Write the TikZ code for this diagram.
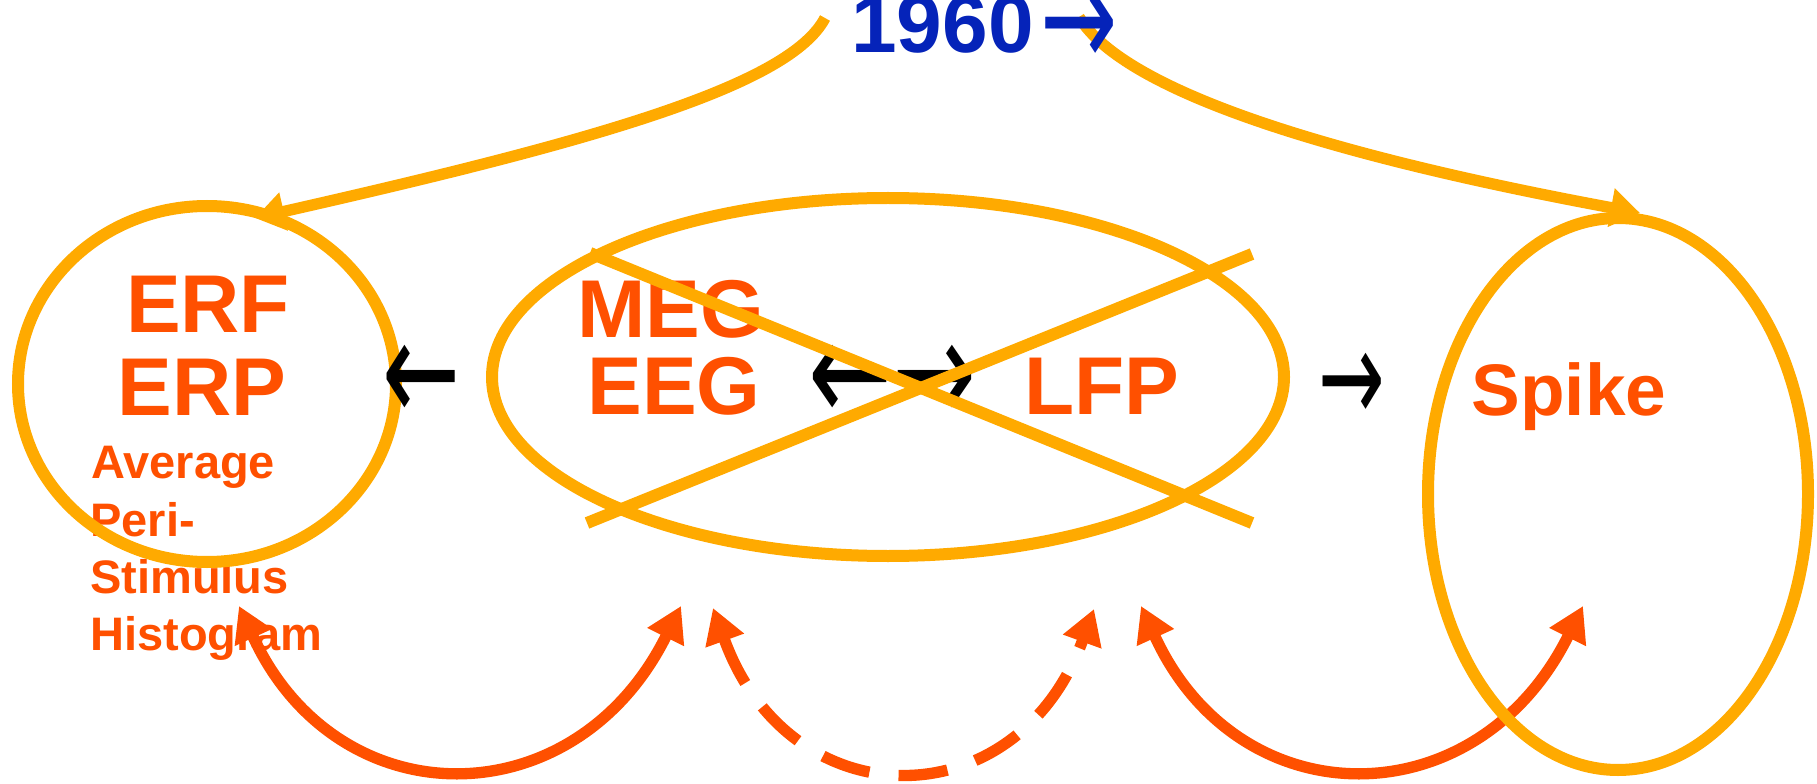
\documentclass[tikz,border=0pt]{standalone}
\usepackage{fontspec}
\usepackage{graphicx}
\setmainfont{Liberation Sans}
\newfontfamily\arrowfont{DejaVu Sans}
\usetikzlibrary{arrows.meta,shapes.geometric}
\definecolor{ringc}{RGB}{255,170,0}
\definecolor{redc}{RGB}{255,80,0}
\definecolor{bluec}{RGB}{5,35,185}
\newcommand{\fbig}{\bfseries\fontsize{61.5}{70}\selectfont}
\newcommand{\fmid}{\bfseries\fontsize{54.75}{62}\selectfont}
\newcommand{\fsml}{\bfseries\fontsize{35.25}{42.75}\selectfont}
\newcommand{\bigglyph}[3]{\resizebox*{#1}{#2}{\arrowfont\mdseries #3}}
\begin{document}
\begin{tikzpicture}[x=0.75pt,y=-0.75pt,
  ring/.style={draw=ringc,line width=9pt,ellipse,inner sep=0pt},
  lbl/.style={text=redc,inner sep=0pt,anchor=base},
  blk/.style={text=black,inner sep=0pt},
  curv/.style={draw=ringc,line width=8.5pt,-{Triangle[length=22pt,width=28pt]}},
  crossline/.style={draw=ringc,line width=9pt},
  redarc/.style={draw=redc,line width=8.5pt,{Triangle[length=26pt,width=29pt]}-{Triangle[length=26pt,width=29pt]}},
  dsh/.style={dash pattern=on 37pt off 22pt}]
\useasboundingbox (0,0) rectangle (1817,784);

% labels
\node[lbl,font=\fbig] (erf) at (208,332) {ERF};
\node[lbl,font=\fbig] (erp) at (202,415) {ERP};
\node[lbl,font=\fsml,anchor=base west] (avg) at (91,478) {Average};
\node[lbl,font=\fsml,anchor=base west] (peri) at (90,536) {Peri-};
\node[lbl,font=\fsml,anchor=base west] (stim) at (90,593) {Stimulus};
\node[lbl,font=\fsml,anchor=base west] (hist) at (90,650) {Histogram};
\node[lbl,font=\fbig] (meg) at (671,338) {MEG};
\node[lbl,font=\fbig] (eeg) at (674,414) {EEG};
\node[lbl,font=\fbig] (lfp) at (1102,414) {LFP};
\node[lbl,font=\fmid] (spk) at (1569,415) {Spike};

% red double-headed arcs
\coordinate (a1l) at (239,606);
\coordinate (a1r) at (681,606);
\coordinate (a2l) at (713,608);
\coordinate (a2r) at (1094,609);
\coordinate (a3l) at (1141,606);
\coordinate (a3r) at (1583,606);
\draw[redarc] (a1l) .. controls (337,820) and (575,820) .. (a1r);
\draw[redarc,dsh] (a2l) .. controls (790,821) and (1017,821) .. (a2r);
\draw[redarc] (a3l) .. controls (1239,820) and (1477,820) .. (a3r);

% ellipses
\node[ring,minimum width=283.5pt,minimum height=267pt] (lel) at (207,384) {};
\node[ring,minimum width=594pt,minimum height=268.5pt] (cel) at (888,377) {};
\node[ring,minimum width=285pt,minimum height=414pt] (rel) at (1618,494) {};

% black arrows
\node[blk] (la) at (421,384) {\bigglyph{58.5pt}{58pt}{←}};
\node[blk] (ma) at (892,384) {\bigglyph{126pt}{58pt}{←→}};
\node[blk] (ra) at (1352,388) {\bigglyph{50pt}{52pt}{→}};

% cross-out
\draw[crossline] (590,253) -- (1252,523);
\draw[crossline] (1252,254) -- (587,523);

% top curves
\coordinate (tl) at (825,18);
\coordinate (tr) at (1079,17);
\coordinate (lend) at (255,218);
\coordinate (rend) at (1640,213);
\draw[curv] (tl) .. controls (790,85) and (600,140) .. (lend);
\draw[curv] (tr) .. controls (1120,85) and (1300,150) .. (rend);

% title
\node[text=bluec,inner sep=0pt,anchor=base west,font=\fbig] (yr) at (851,53) {1960\kern5pt\raisebox{-11pt}{\bigglyph{58pt}{56pt}{→}}};
\end{tikzpicture}
\end{document}
